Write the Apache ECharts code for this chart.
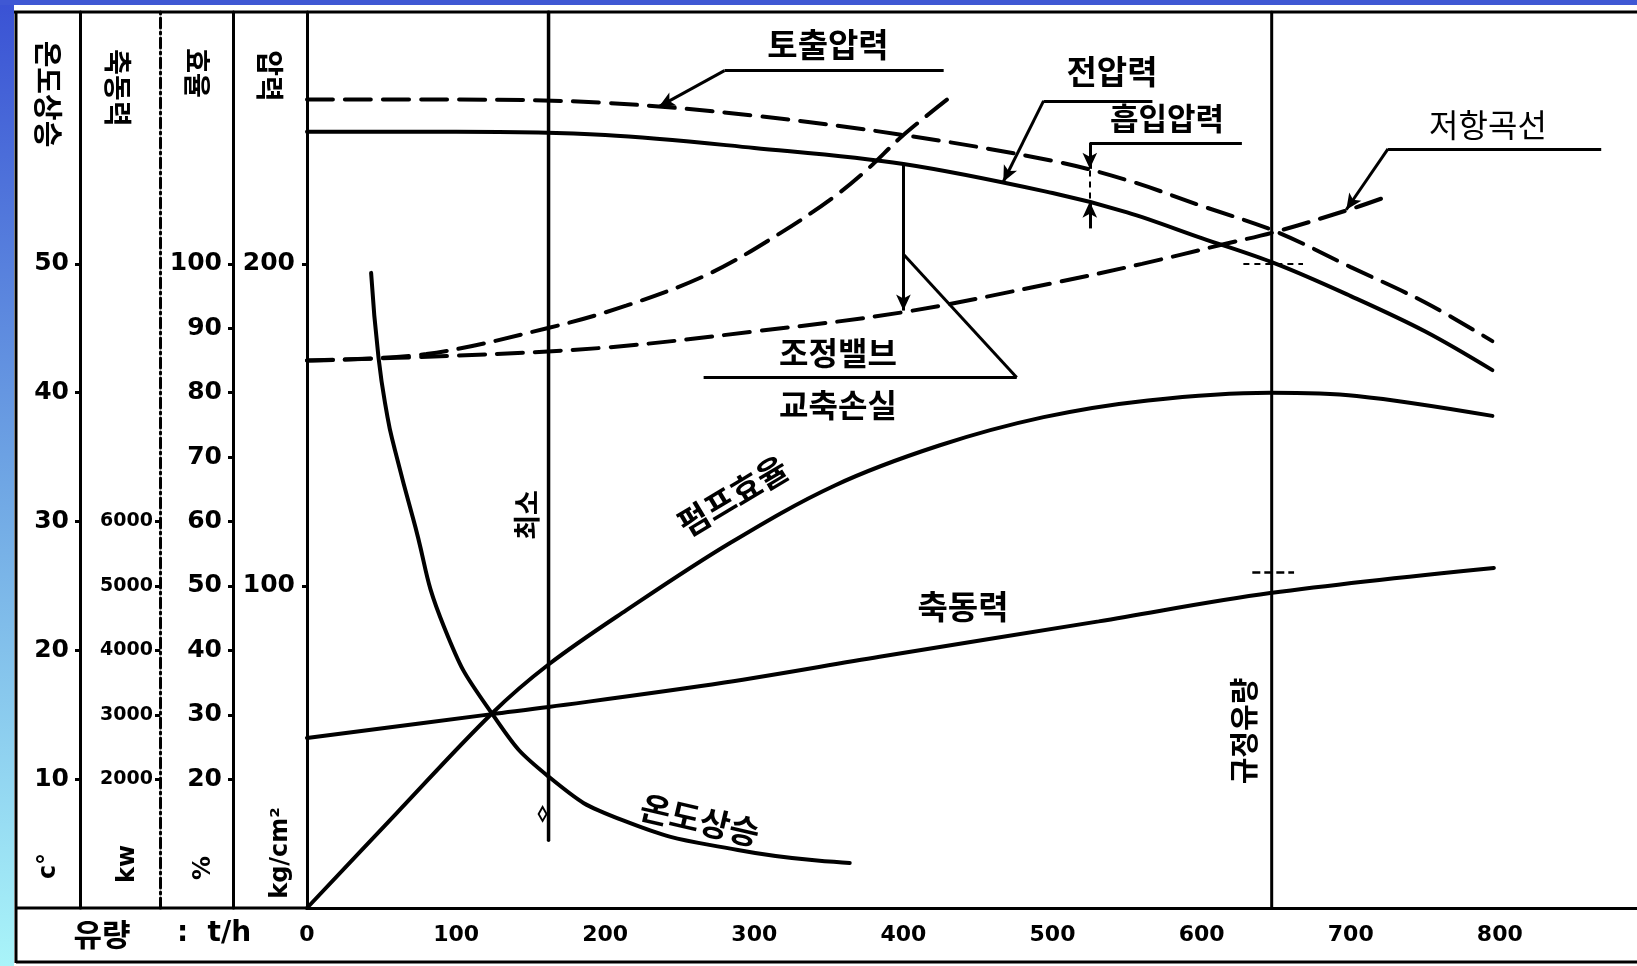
<!DOCTYPE html>
<html>
<head>
<meta charset="utf-8">
<script src="https://cdn.jsdelivr.net/npm/echarts@6/dist/echarts.min.js"></script>
<style>
  html, body { margin: 0; padding: 0; background: #fff; }
  #chart { width: 1637px; height: 966px; }
</style>
</head>
<body>
<div id="chart"></div>
<script>
// ---- flow axis (t/h) ----
const flowTicks = [0, 100, 200, 300, 400, 500, 600, 700, 800];

// ---- pressure curves, kg/cm² ----
const dischargeFlow = [0, 100, 200, 300, 400, 500, 550, 600, 650, 700, 750, 795];
const dischargePressure = [251, 251, 250, 246, 240, 232, 226, 218, 210, 199, 188, 176];

const totalFlow = [0, 100, 200, 300, 400, 500, 550, 600, 650, 700, 750, 795];
const totalPressure = [241, 241, 240, 236, 231, 222, 216, 208, 200, 190, 179, 167];

// system curve with the control valve throttled
const valveFlow = [0, 80, 161, 214, 270, 319, 354, 375, 400, 432];
const valvePressure = [170, 172, 180, 187, 197, 210, 221, 229, 240, 252];

// system resistance curve
const systemFlow = [0, 100, 200, 300, 400, 500, 560, 614, 650, 700, 725];
const systemPressure = [170, 171.5, 174, 179, 185, 194, 200, 206, 210, 217, 221];

// ---- pump efficiency, % ----
const effFlow = [0, 60, 124, 162, 214, 284, 354, 424, 494, 564, 646, 704, 795];
const effPct = [0, 14.7, 30.2, 37.8, 46.2, 56.7, 65.6, 71.8, 76.2, 78.8, 80.0, 79.5, 76.4];

// ---- shaft power, kW ----
const powerFlow = [0, 124, 162, 280, 384, 531, 646, 796];
const powerKW = [2640, 3010, 3120, 3500, 3900, 4450, 4890, 5280];

// ---- temperature rise, °C ----
const tempFlow = [43, 48, 54, 58, 71, 92, 124, 162, 212, 289, 364];
const tempRise = [49.3, 42.7, 38.1, 36.0, 30.3, 21.8, 15.1, 10.2, 6.8, 4.5, 3.5];

// ---- reference flows ----
const minFlow = 162;      // 최소
const ratedFlow = 647;    // 규정유량

// ---- scale column tick values ----
const tempTicks = [10, 20, 30, 40, 50];
const powerTicks = [2000, 3000, 4000, 5000, 6000];
const effTicks = [20, 30, 40, 50, 60, 70, 80, 90, 100];
const pressTicks = [100, 200];

// all four scales share one height: 100 % = 200 kg/cm² = 50 °C = 10000 kW
const topPct = 139.1;
const flowMax = 892;

const zip = (xs, ys) => xs.map((x, i) => [x, ys[i]]);

const INK = '#000';
const KR = '"Noto Sans CJK KR", "Noto Sans CJK SC", sans-serif';
const NUM = '"DejaVu Sans", "Liberation Sans", sans-serif';

function scaleAxis(offset, max, ticks, fontSize, margin, lineType) {
  return {
    type: 'value', position: 'left', offset: offset, min: 0, max: max,
    axisLine: { show: true, onZero: false, lineStyle: { color: INK, width: 3, type: lineType || 'solid' } },
    axisTick: { show: true, customValues: ticks, length: 5, lineStyle: { color: INK, width: 3 } },
    axisLabel: { customValues: ticks, color: INK, fontFamily: NUM, fontWeight: 'bold',
                 fontSize: fontSize, margin: margin, formatter: v => String(v) },
    splitLine: { show: false }
  };
}

const curve = (w, dash) => ({ color: INK, width: w, type: dash ? [26, 12] : 'solid', cap: 'round' });

// leader / dimension segment in data coordinates
function seg(a, b, arrow, style) {
  return [
    { coord: a, symbol: 'none', lineStyle: style || { color: INK, width: 3, type: 'solid' } },
    { coord: b, symbol: arrow ? 'arrow' : 'none', symbolSize: [11, 16] }
  ];
}
const thinDash = { color: INK, width: 2, type: [6, 5] };

const pressureNotes = [
  // 토출압력
  seg([427, 260], [280, 260]),
  seg([280, 260], [236, 248.8], true),
  // 전압력
  seg([567, 250.6], [494, 250.6]),
  seg([494, 250.6], [467, 225.5], true),
  // 흡입압력
  seg([627, 237.6], [525, 237.6]),
  seg([525, 237.6], [525, 229.5], true),
  seg([525, 229], [525, 219.5], false, thinDash),
  seg([525, 211], [525, 219.3], true),
  // 저항곡선
  seg([868, 235.7], [725, 235.7]),
  seg([725, 235.7], [697, 216.8], true),
  // 조정밸브 / 교축손실
  seg([400, 231], [400, 185.5], true),
  seg([400, 203], [476, 164.7]),
  seg([266, 164.7], [476, 164.7]),
  // rated point on the total pressure curve
  seg([628, 200], [668, 200], false, thinDash)
];

const chart = echarts.init(document.getElementById('chart'), null, { renderer: 'canvas', width: 1637, height: 966 });

function txt(text, x, y, size, opts) {
  opts = opts || {};
  return {
    type: 'text', x: x, y: y, rotation: opts.rot || 0, z: 100, silent: true,
    style: {
      text: text, x: 0, y: 0, fill: INK,
      font: (opts.weight || 'bold') + ' ' + size + 'px ' + (opts.family || KR),
      align: 'center', verticalAlign: 'middle',
      textAlign: 'center', textVerticalAlign: 'middle'
    }
  };
}
function hline(x1, y1, x2, y2, w) {
  return { type: 'line', z: 90, silent: true, shape: { x1: x1, y1: y1, x2: x2, y2: y2 },
           style: { stroke: INK, lineWidth: w || 3 } };
}

const HALF_PI = Math.PI / 2;

chart.setOption({
  animation: false,
  backgroundColor: '#fff',
  grid: { left: 307, top: 12, right: 0, bottom: 58, containLabel: false },
  xAxis: {
    type: 'value', min: 0, max: flowMax,
    axisLine: { show: true, onZero: false, lineStyle: { color: INK, width: 3 } },
    axisTick: { show: false },
    axisLabel: { customValues: flowTicks, color: INK, fontFamily: NUM, fontWeight: 'bold', fontSize: 22, margin: 16 },
    splitLine: { show: false }
  },
  yAxis: [
    scaleAxis(0, topPct * 2, pressTicks, 25, 12),           // kg/cm²
    scaleAxis(74, topPct, effTicks, 25, 11),                // %
    scaleAxis(147, topPct * 100, powerTicks, 19, 7, [10, 4, 2, 4]), // kW
    scaleAxis(227, topPct / 2, tempTicks, 25, 11)           // °C
  ],
  series: [
    {
      name: '토출압력', type: 'line', yAxisIndex: 0, symbol: 'none', smooth: 0.35,
      data: zip(dischargeFlow, dischargePressure), lineStyle: curve(4, true),
      markLine: { silent: true, animation: false, label: { show: false }, symbol: ['none', 'none'],
                  lineStyle: { color: INK, width: 3, type: 'solid' }, emphasis: { disabled: true },
                  data: pressureNotes }
    },
    {
      name: '전압력', type: 'line', yAxisIndex: 0, symbol: 'none', smooth: 0.35,
      data: zip(totalFlow, totalPressure), lineStyle: curve(4, false)
    },
    {
      name: '조정밸브', type: 'line', yAxisIndex: 0, symbol: 'none', smooth: 0.35,
      data: zip(valveFlow, valvePressure), lineStyle: curve(4, true)
    },
    {
      name: '저항곡선', type: 'line', yAxisIndex: 0, symbol: 'none', smooth: 0.35,
      data: zip(systemFlow, systemPressure), lineStyle: curve(4, true)
    },
    {
      name: '펌프효율', type: 'line', yAxisIndex: 1, symbol: 'none', smooth: 0.35,
      data: zip(effFlow, effPct), lineStyle: curve(4, false),
      markLine: { silent: true, animation: false, label: { show: false }, symbol: ['none', 'none'],
                  emphasis: { disabled: true },
                  data: [seg([634, 52.2], [662, 52.2], false, { color: INK, width: 2.5, type: [8, 4] })] }
    },
    {
      name: '축동력', type: 'line', yAxisIndex: 2, symbol: 'none', smooth: 0.35,
      data: zip(powerFlow, powerKW), lineStyle: curve(4, false)
    },
    {
      name: '온도상승', type: 'line', yAxisIndex: 3, symbol: 'none', smooth: 0.5,
      data: zip(tempFlow, tempRise), lineStyle: curve(4, false)
    },
    {
      name: '최소', type: 'line', yAxisIndex: 1, symbol: 'none',
      data: [[minFlow, topPct], [minFlow, 10.5]], lineStyle: curve(3.5, false),
      markPoint: { silent: true, animation: false, label: { show: false },
                   data: [{ coord: [minFlow - 4, 14.6], symbol: 'diamond', symbolSize: [8, 14],
                            itemStyle: { color: '#fff', borderColor: INK, borderWidth: 2 } }] }
    },
    {
      name: '규정유량', type: 'line', yAxisIndex: 1, symbol: 'none',
      data: [[ratedFlow, 0], [ratedFlow, topPct]], lineStyle: curve(3, false)
    }
  ],
  graphic: [
    // page edge
    { type: 'rect', z: 0, silent: true, shape: { x: 0, y: 0, width: 14, height: 966 },
      style: { fill: new echarts.graphic.LinearGradient(0, 0, 0, 1, [
        { offset: 0, color: '#3a52d4' }, { offset: 0.5, color: '#6fa6e4' }, { offset: 1, color: '#a9f4f9' }]) } },
    { type: 'rect', z: 0, silent: true, shape: { x: 0, y: 0, width: 1637, height: 5 },
      style: { fill: '#3f58d4' } },
    // frame
    hline(14, 12, 1637, 12),
    hline(16, 12, 16, 963),
    hline(16, 908, 307, 908),
    hline(16, 962, 1637, 962),
    // column heads
    txt('온도상승', 48, 94, 29, { rot: -HALF_PI }),
    txt('축동력', 118, 88, 28, { rot: -HALF_PI }),
    txt('효율', 197, 73, 27, { rot: -HALF_PI }),
    txt('압력', 270, 76, 28, { rot: -HALF_PI }),
    // column units
    txt('c°', 49, 866, 24, { rot: HALF_PI, family: NUM }),
    txt('kw', 128, 864, 24, { rot: HALF_PI, family: NUM }),
    txt('%', 204, 868, 24, { rot: HALF_PI, family: NUM }),
    txt('kg/cm²', 281, 853, 24, { rot: HALF_PI, family: NUM }),
    // flow axis name
    txt('유량', 102, 934, 31),
    txt(':  t/h', 214, 934, 28, { family: NUM }),
    // curve names
    txt('토출압력', 828, 44, 33),
    txt('전압력', 1112, 71, 33),
    txt('흡입압력', 1167, 118, 31),
    txt('저항곡선', 1488, 125, 32, { weight: 'normal' }),
    txt('조정밸브', 838, 353, 32),
    txt('교축손실', 838, 405, 32),
    txt('펌프효율', 733, 496, 33, { rot: 0.54 }),
    txt('축동력', 963, 606, 33),
    txt('온도상승', 700, 820, 33, { rot: -0.23 }),
    txt('최소', 527, 515, 27, { rot: HALF_PI }),
    txt('규정유량', 1244, 731, 29, { rot: HALF_PI })
  ]
});
</script>
</body>
</html>
